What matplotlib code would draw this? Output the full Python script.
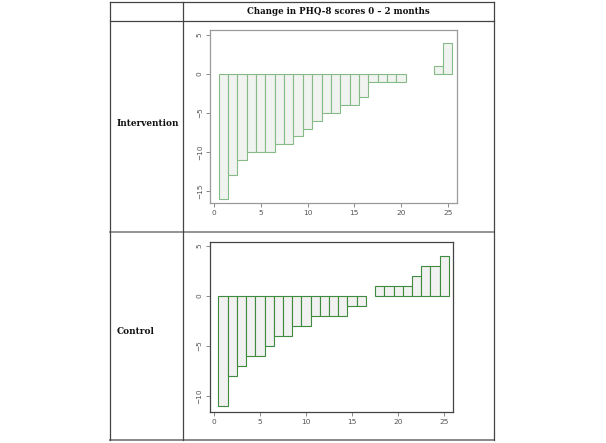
import matplotlib
matplotlib.use("Agg")
import matplotlib.pyplot as plt
from matplotlib.lines import Line2D

# Data
participants = list(range(1, 26))
intervention_change = [-16, -13, -11, -10, -10, -10, -9, -9, -8, -7, -6, -5, -5,
                       -4, -4, -3, -1, -1, -1, -1, 0, 0, 0, 1, 4]
control_change = [-11, -8, -7, -6, -6, -5, -4, -4, -3, -3, -2, -2, -2, -2,
                  -1, -1, 0, 1, 1, 1, 1, 2, 3, 3, 4]
x_ticks = [0, 5, 10, 15, 20, 25]
header = "Change in PHQ-8 scores 0 \u2013 2 months"
row_labels = ["Intervention", "Control"]

W, H = 606, 443
fig = plt.figure(figsize=(W / 100, H / 100), dpi=100)

def fx(px):
    return px / W

def fy(py):
    return 1 - py / H

# Table grid
tl = dict(color="#444444", lw=0.9, transform=fig.transFigure)
L, R, T, B = 110, 494, 2.3, 440
fig.add_artist(Line2D([fx(L), fx(R)], [fy(T), fy(T)], **tl))
fig.add_artist(Line2D([fx(L), fx(R)], [fy(21), fy(21)], **tl))
fig.add_artist(Line2D([fx(L), fx(R)], [fy(231.7), fy(231.7)], color="#777777", lw=1.1, transform=fig.transFigure))
fig.add_artist(Line2D([fx(L), fx(R)], [fy(B), fy(B)], color="#888888", lw=1.4, transform=fig.transFigure))
fig.add_artist(Line2D([fx(L), fx(L)], [fy(T), fy(B)], **tl))
fig.add_artist(Line2D([fx(R), fx(R)], [fy(T), fy(B)], **tl))
fig.add_artist(Line2D([fx(182.7), fx(182.7)], [fy(T), fy(B)], **tl))

tfont = dict(family="DejaVu Serif", weight="bold", color="#111111")
fig.text(fx(338.5), fy(11.5), header, ha="center", va="center", fontsize=6.2, **tfont)
fig.text(fx(117), fy(123), row_labels[0], ha="left", va="center", fontsize=6.4, **tfont)
fig.text(fx(117), fy(332), row_labels[1], ha="left", va="center", fontsize=6.4, **tfont)

def make_axes(l, t, r, b):
    return fig.add_axes([fx(l), fy(b), fx(r) - fx(l), fy(t) - fy(b)])

def style(ax, yticks, ylim, frame_color):
    ax.set_xlim(-0.47, 25.95)
    ax.set_ylim(*ylim)
    ax.set_xticks(x_ticks)
    ax.set_yticks(yticks)
    for s in ax.spines.values():
        s.set_color(frame_color)
        s.set_linewidth(0.9)
    ax.tick_params(axis="both", direction="out", length=3, width=0.6,
                   colors="#777777", labelsize=5.3, labelcolor="#555555", pad=2)
    for lab in ax.get_yticklabels():
        lab.set_rotation(90)
        lab.set_va("center")

def hide_zero(bars, values):
    for patch, v in zip(bars.patches, values):
        if v == 0:
            patch.set_visible(False)

ax1 = make_axes(209.7, 30.3, 456.5, 202.7)
b1 = ax1.bar(participants, intervention_change, width=1.0, color="#f1f3f1",
             edgecolor="#86bb86", linewidth=0.8)
hide_zero(b1, intervention_change)
style(ax1, [-15, -10, -5, 0, 5], (-16.5, 5.6), "#9a9a9a")

ax2 = make_axes(209.5, 242, 453, 411.7)
b2 = ax2.bar(participants, control_change, width=1.0, color="#f0f1f0",
             edgecolor="#3f8a3f", linewidth=0.8)
hide_zero(b2, control_change)
style(ax2, [-10, -5, 0, 5], (-11.57, 5.4), "#444444")

fig.savefig("out.png", dpi=100)
